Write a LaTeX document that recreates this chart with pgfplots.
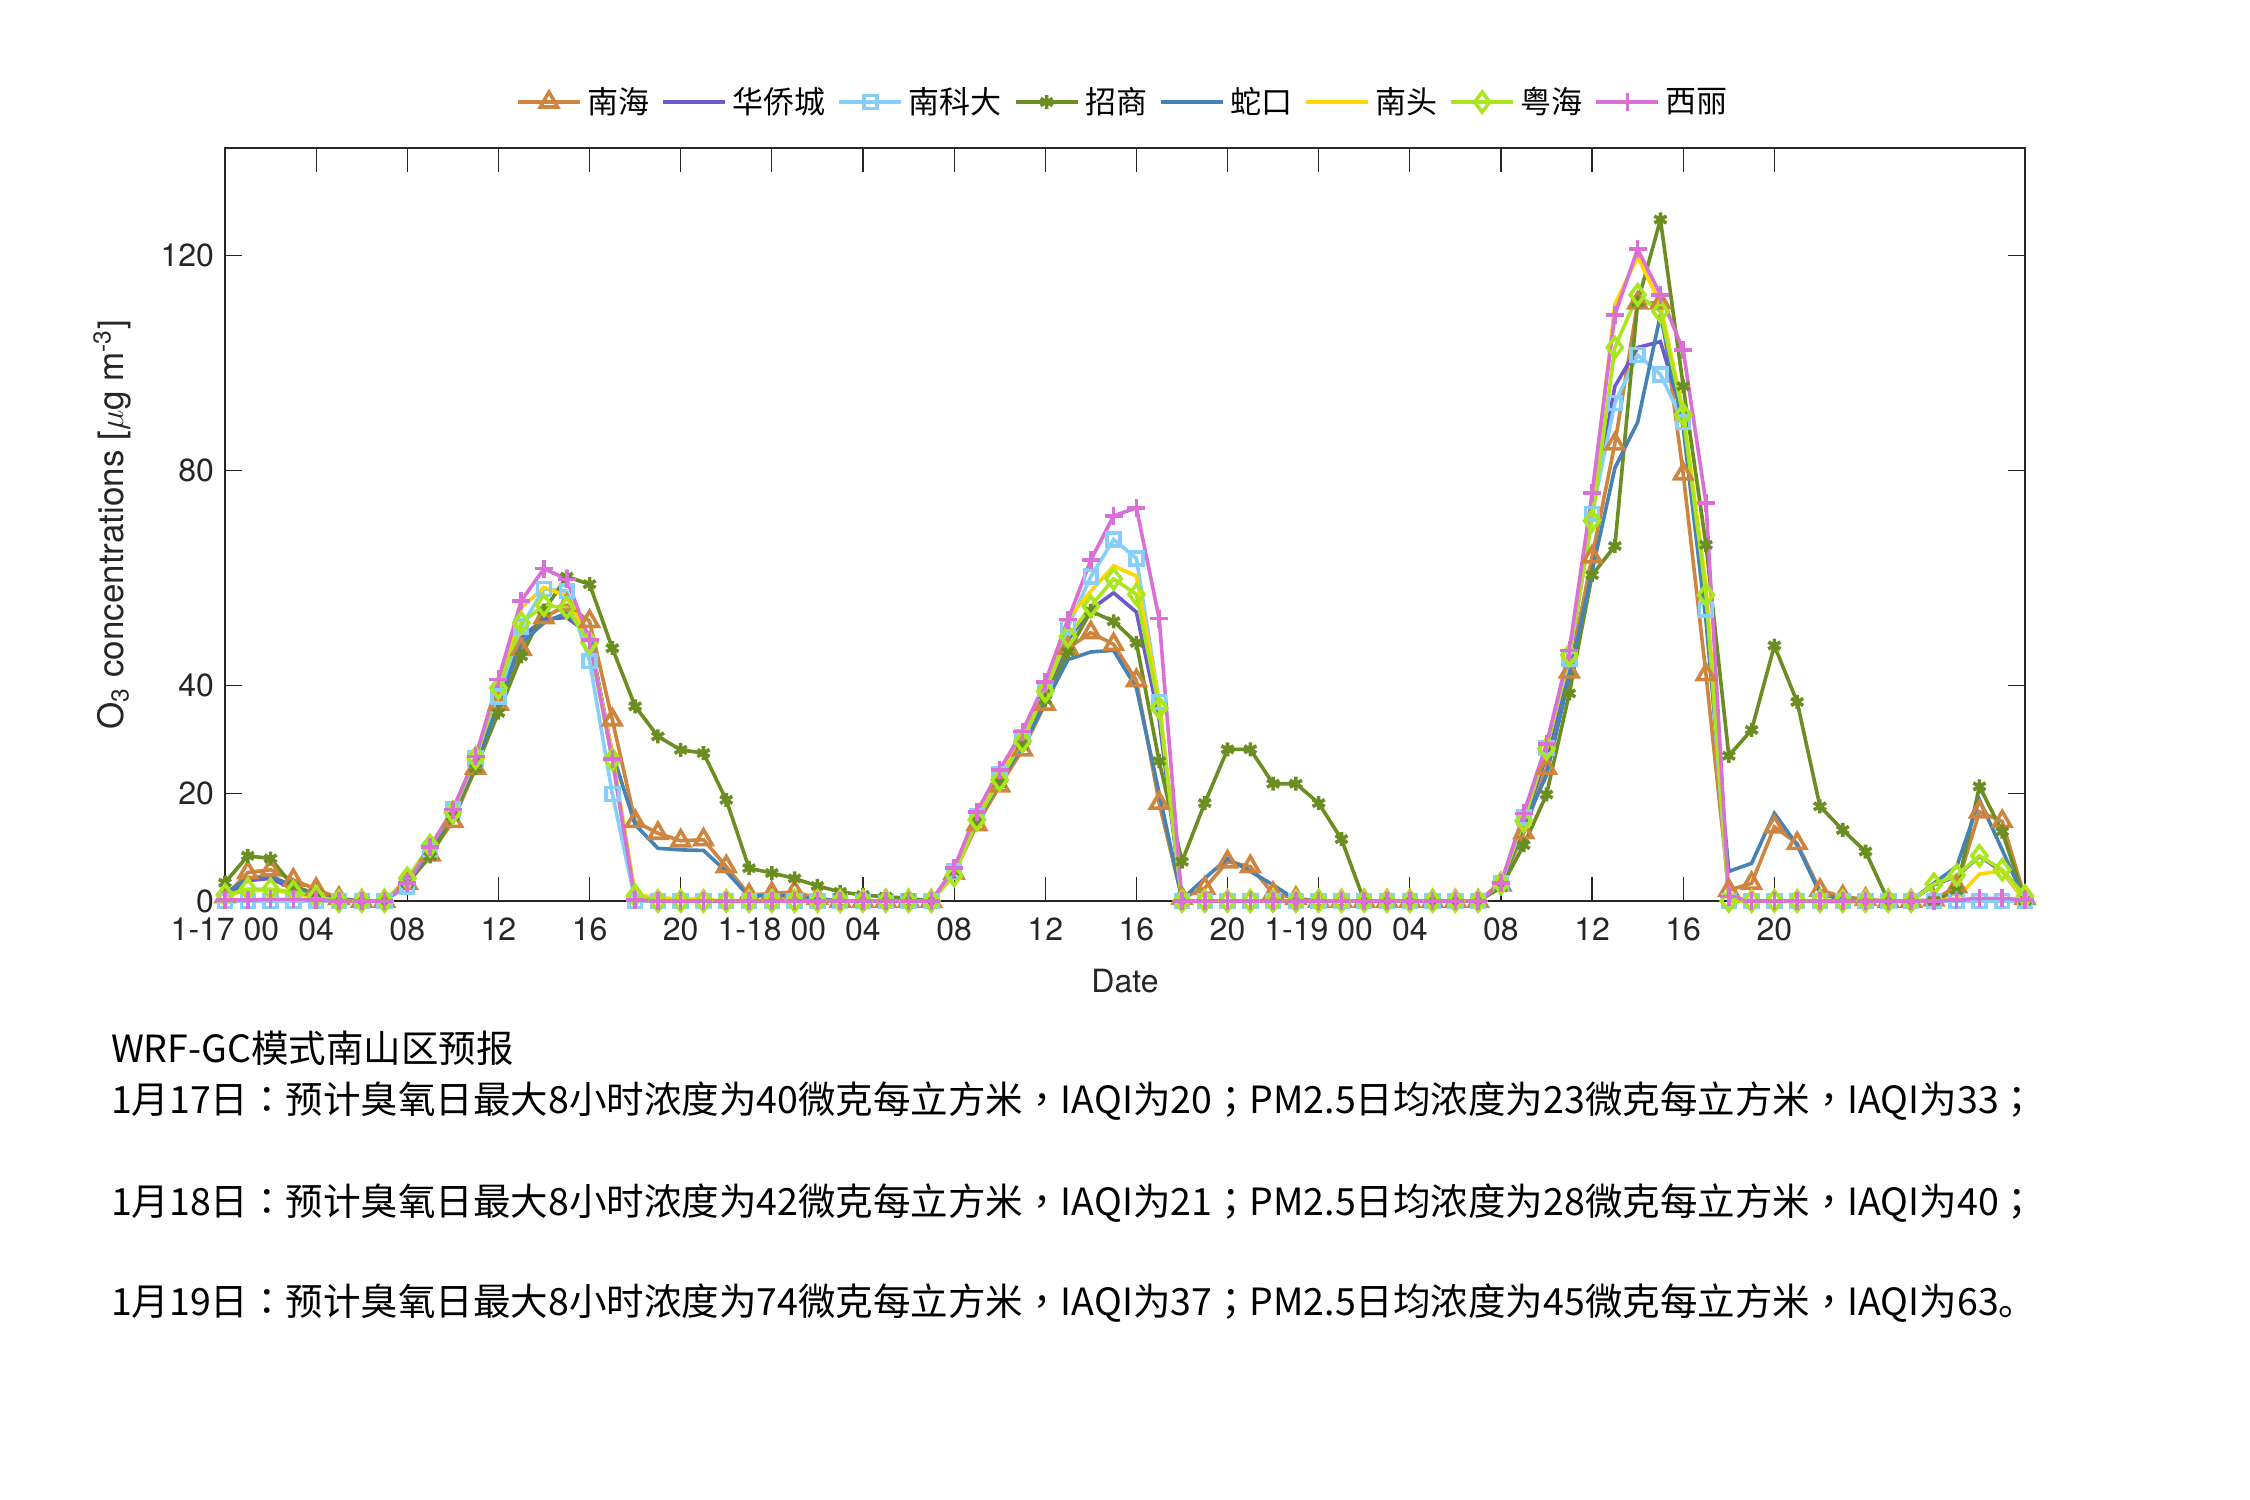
\documentclass[border=0pt]{standalone}
\usepackage{fontspec}
\setmainfont{Noto Sans CJK SC}
\newfontfamily\tcp{Noto Sans CJK TC}
\newfontfamily\helv{TeX Gyre Heros}
\usepackage{pgfplots}
\usepackage{pgfplotstable}
\pgfplotsset{compat=1.18}

\definecolor{axgray}{HTML}{262626}
\definecolor{cnanhai}{RGB}{205,133,63}
\definecolor{chuaqiao}{RGB}{106,90,205}
\definecolor{cnankeda}{RGB}{135,206,250}
\definecolor{czhaoshang}{RGB}{107,142,35}
\definecolor{cshekou}{RGB}{70,130,180}
\definecolor{cnantou}{RGB}{255,215,0}
\definecolor{cyuehai}{RGB}{170,230,30}
\definecolor{cxili}{RGB}{218,112,214}

\newcommand{\cm}{{\tcp ，}}
\newcommand{\sm}{{\tcp ；}}
\newcommand{\cl}{{\tcp ：}}

% hourly O3, 1-17 00 .. 1-20 07
\pgfplotstableread{
h nanhai huaqiao nankeda zhaoshang shekou nantou yuehai xili
0 0.8 0.8 0 3.4 1.4 1.0 1.1 0.2
1 5.3 3.8 0 8.4 4.2 2.0 2.2 0.2
2 5.8 4.2 0 7.9 4.7 2.0 2.2 0.3
3 3.9 2.2 0 2.7 2.7 1.5 1.7 0.3
4 2.2 0.8 0 1.4 0.8 0.5 0.8 0.2
5 0.5 0.2 0 0.3 0.2 0 0 0
6 0 0 0 0 0 0 0 0
7 0 0 0 0 0 0 0 0
8 3.3 3.5 2.7 3.3 3.3 3.8 4.2 3.3
9 8.6 9.5 9.5 8.3 9.5 10.0 10.3 10.0
10 14.8 16.5 17.0 15.7 16.5 17.0 16.5 17.0
11 24.7 26.0 26.5 24.7 25.5 26.5 26.6 26.9
12 36.6 37.5 38.0 35.0 36.5 40.0 39.6 41.2
13 46.8 49.0 51.0 45.5 48.0 54.5 51.7 55.8
14 52.7 52.4 58.0 54.0 51.7 58.3 55.0 61.8
15 55.0 52.7 57.6 60.3 53.6 56.7 54.5 59.8
16 52.0 49.6 44.6 58.9 49.3 48.6 48.0 48.5
17 33.7 26.3 19.9 47.0 27.5 27.5 26.3 26.4
18 14.8 0.5 0 36.2 14.2 1.2 1.0 0.2
19 12.6 0 0 30.6 9.8 0.6 0 0
20 11.2 0 0 28.1 9.5 0.4 0 0
21 11.4 0 0 27.5 9.4 0.3 0 0
22 6.4 0 0 18.8 5.5 0 0 0
23 1.1 0 0 6.1 0.8 0 0 0
24 1.4 0 0 5.2 1.1 0 0 0
25 1.7 0 0 4.2 0.8 0 0 0
26 0.5 0 0 2.8 0.3 0 0 0
27 0 0 0 1.7 0 0 0 0
28 0 0 0 1.1 0 0 0 0
29 0 0 0 0.8 0 0 0 0
30 0 0 0 0.5 0 0 0 0
31 0 0 0 0 0 0 0 0
32 5.2 5.5 5.5 5.5 5.5 6.0 4.8 6.1
33 14.2 15.5 15.8 15.0 15.0 16.0 15.1 16.6
34 21.4 22.8 23.5 22.0 22.2 23.5 22.5 24.4
35 28.1 29.5 30.5 29.0 28.7 30.5 29.7 31.5
36 36.6 38.0 39.5 37.4 36.8 40.0 39.0 40.7
37 47.0 48.6 51.0 46.3 44.9 52.6 49.2 52.3
38 49.9 54.2 60.3 53.9 46.3 57.6 54.8 63.4
39 47.7 57.3 67.2 52.0 46.6 62.3 59.9 71.6
40 41.0 53.7 63.7 48.0 39.6 60.4 57.0 73.1
41 18.2 33.7 37.0 26.0 20.0 37.0 35.9 52.5
42 0.5 0 0 7.3 0.3 0 0 0
43 2.4 0 0 18.2 4.2 0 0 0
44 7.3 0 0 28.2 7.9 0 0 0
45 6.4 0 0 28.2 5.5 0 0 0
46 1.4 0 0 21.8 3.0 0 0 0
47 0.5 0 0 21.8 0.2 0 0 0
48 0 0 0 18.2 0 0 0 0
49 0 0 0 11.5 0 0 0 0
50 0 0 0 0 0 0 0 0
51 0 0 0 0 0 0 0 0
52 0 0 0 0 0 0 0 0
53 0 0 0 0 0 0 0 0
54 0 0 0 0 0 0 0 0
55 0 0 0 0 0 0 0 0
56 3.0 3.3 3.3 2.5 3.0 3.3 3.3 3.3
57 12.7 14.5 15.5 10.4 14.0 15.5 14.9 16.3
58 24.7 27.0 28.5 19.8 23.4 28.5 28.3 29.2
59 42.6 44.5 45.0 38.6 41.7 46.0 45.7 46.6
60 64.0 72.0 72.0 60.6 61.3 73.8 70.7 75.8
61 85.0 95.7 92.6 66.0 80.5 110.9 102.9 109.0
62 111.2 102.9 101.5 111.3 89.0 119.8 112.7 121.2
63 111.2 104.0 97.9 126.7 109.0 110.9 109.6 112.7
64 79.4 89.9 89.0 95.7 88.0 91.0 90.4 102.4
65 42.1 55.0 54.2 66.2 52.0 58.7 56.9 74.0
66 2.0 0.5 0 27.0 5.5 0 0 0.8
67 3.3 0 0 31.8 7.0 0 0 0
68 13.8 0 0 47.5 16.3 0 0 0
69 10.7 0 0 37.0 10.4 0 0 0
70 2.0 0 0 17.6 1.4 0 0 0
71 0.8 0 0 13.2 0.2 0 0 0
72 0.3 0 0 9.2 0 0 0 0
73 0 0 0 0 0 0 0 0
74 0 0 0 0 0 0 0 0
75 0.2 3.0 0 0 3.3 0 3.1 0
76 2.7 4.6 0 2.0 6.4 0.5 4.8 0.2
77 16.6 8.3 0 21.3 18.8 5.0 8.4 0.5
78 14.8 5.5 0 12.9 9.5 5.6 5.8 0.5
79 0.5 0 0 0 0 0 0.9 0.2
}\ozone

\begin{document}
\begin{tikzpicture}
\path[use as bounding box] (0,0) rectangle (1125pt,750pt);
\begin{axis}[
  at={(112.5pt,299.5pt)}, anchor=south west,
  scale only axis, width=900pt, height=376.5pt,
  xmin=0, xmax=79, ymin=0, ymax=140,
  clip=false,
  xtick={0,4,...,68},
  xticklabels={1-17 00,04,08,12,16,20,1-18 00,04,08,12,16,20,1-19 00,04,08,12,16,20},
  ytick={0,20,40,80,120},
  tick align=inside,
  xtick style={/pgfplots/major tick length=12pt, axgray, line width=0.6pt},
  ytick style={/pgfplots/major tick length=8.5pt, axgray, line width=0.6pt},
  axis line style={axgray, line width=0.6pt},
  /pgf/number format/assume math mode=true,
  ticklabel style={font=\helv\fontsize{16}{19}\selectfont, text=axgray},
  xticklabel style={yshift=-5pt},
  yticklabel style={xshift=-2pt},
  xlabel={Date},
  ylabel={O\textsubscript{3} concentrations [$\mu$g m\textsuperscript{-3}]},
  xlabel style={font=\helv\fontsize{16}{19}\selectfont, text=axgray,
    at={(axis description cs:0.5,-0.1062)}, anchor=center},
  ylabel style={font=\helv\fontsize{17.5}{20}\selectfont, text=axgray,
    at={(axis description cs:-0.0628,0.5)}, anchor=center},
  legend columns=8,
  legend style={draw=none, fill=none, at={(0.5,1.061)}, anchor=center,
    font=\fontsize{15.5}{18}\selectfont, nodes={inner xsep=2.9pt},
    /tikz/every even column/.append style={column sep=3pt}},
  legend image code/.code={\draw[mark repeat=2,mark phase=2,#1] plot coordinates {(0pt,0pt) (15.5pt,0pt) (31pt,0pt)};},
  every axis plot/.append style={line width=1.8pt},
]
\addplot[color=cnanhai, mark=triangle, mark size=5pt, mark options={solid}] table[x=h,y=nanhai]{\ozone};
\addlegendentry{南海}
\addplot[color=chuaqiao] table[x=h,y=huaqiao]{\ozone};
\addlegendentry{华侨城}
\addplot[color=cnankeda, mark=square, mark size=3.2pt, mark options={solid}] table[x=h,y=nankeda]{\ozone};
\addlegendentry{南科大}
\addplot[color=czhaoshang, mark=asterisk, mark size=3.5pt, mark options={solid}] table[x=h,y=zhaoshang]{\ozone};
\addlegendentry{招商}
\addplot[color=cshekou] table[x=h,y=shekou]{\ozone};
\addlegendentry{蛇口}
\addplot[color=cnantou] table[x=h,y=nantou]{\ozone};
\addlegendentry{南头}
\addplot[color=cyuehai, mark=diamond, mark size=5pt, mark options={solid}] table[x=h,y=yuehai]{\ozone};
\addlegendentry{粤海}
\addplot[color=cxili, mark=+, mark size=4.5pt, mark options={solid}] table[x=h,y=xili]{\ozone};
\addlegendentry{西丽}
\end{axis}
\begin{scope}[every node/.style={anchor=base west, inner sep=0pt, font=\fontsize{18.75}{22}\selectfont}]
\node at (55.3pt,218.5pt) {WRF-GC模式南山区预报};
\node at (55.3pt,193.4pt) {1月17日\cl 预计臭氧日最大8小时浓度为40微克每立方米\cm IAQI为20\sm PM2.5日均浓度为23微克每立方米\cm IAQI为33\sm};
\node at (55.3pt,142.4pt) {1月18日\cl 预计臭氧日最大8小时浓度为42微克每立方米\cm IAQI为21\sm PM2.5日均浓度为28微克每立方米\cm IAQI为40\sm};
\node at (55.3pt,92.2pt) {1月19日\cl 预计臭氧日最大8小时浓度为74微克每立方米\cm IAQI为37\sm PM2.5日均浓度为45微克每立方米\cm IAQI为63。};
\end{scope}
\end{tikzpicture}
\end{document}
